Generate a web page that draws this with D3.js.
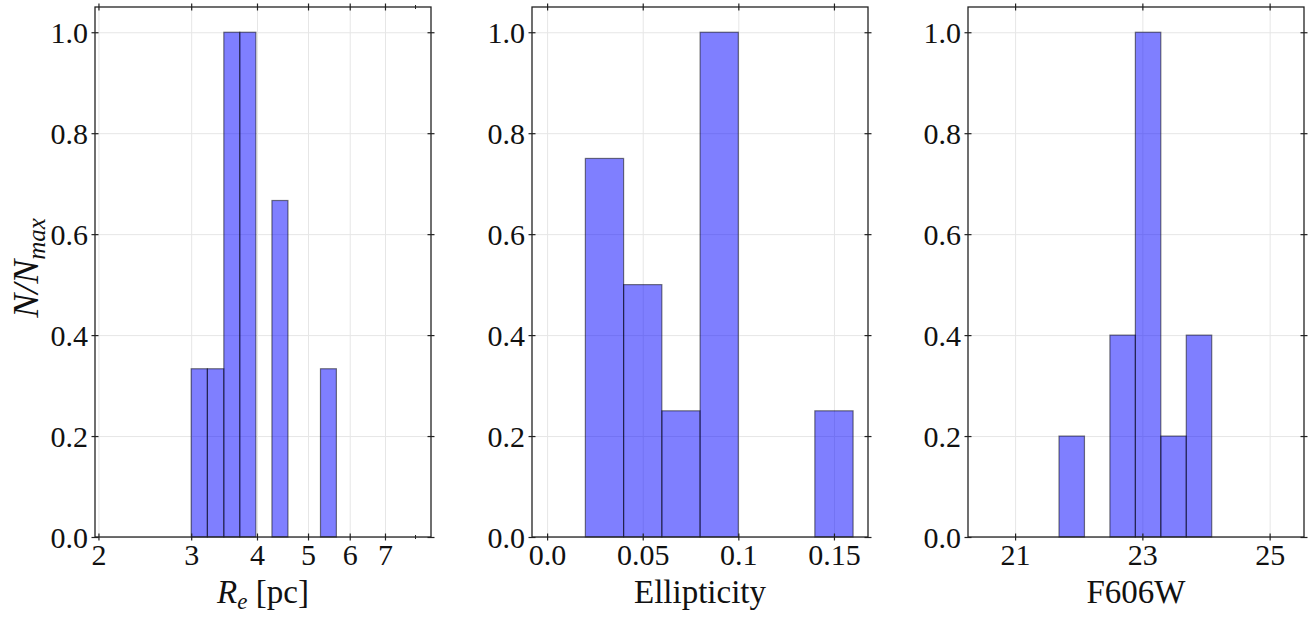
<!DOCTYPE html>
<html>
<head>
<meta charset="utf-8">
<script src="https://cdn.jsdelivr.net/npm/d3@7"></script>
</head>
<body style="margin:0;background:#fff">
<svg id="chart" width="1313" height="619"></svg>
<script>
// histogram bins (counts, later divided by the max)
var reEdges = [3.0, 3.22, 3.46, 3.71, 3.98, 4.27, 4.58, 4.92, 5.28, 5.66];
var reCounts = [1, 1, 3, 3, 0, 2, 0, 0, 1];
var ellEdges = [0.02, 0.04, 0.06, 0.08, 0.10, 0.12, 0.14, 0.16];
var ellCounts = [3, 2, 1, 4, 0, 0, 1];
var magEdges = [21.69, 22.09, 22.49, 22.89, 23.29, 23.69, 24.09];
var magCounts = [1, 0, 2, 5, 1, 2];

// ticks
var yTicks = [0, 0.2, 0.4, 0.6, 0.8, 1.0];
var reTicks = [2, 3, 4, 5, 6, 7], reMinor = [8];
var ellTicks = [0, 0.05, 0.1, 0.15], ellLabels = ["0.0", "0.05", "0.1", "0.15"];
var magTicks = [21, 23, 25];

var FONT = "'Liberation Serif'";
var plotTop = 7, h = 530, w = 336;

var panels = [
    { left: 95, x: d3.scaleLog().domain([1.97, 8.56]), edges: reEdges, counts: reCounts,
      ticks: reTicks, minor: reMinor, fmt: function(d) { return d; }, title: "re" },
    { left: 532, x: d3.scaleLinear().domain([-0.0079, 0.1678]), edges: ellEdges, counts: ellCounts,
      ticks: ellTicks, minor: [], fmt: function(d, i) { return ellLabels[i]; }, title: "Ellipticity" },
    { left: 968, x: d3.scaleLinear().domain([20.26, 25.54]), edges: magEdges, counts: magCounts,
      ticks: magTicks, minor: [], fmt: function(d) { return d; }, title: "F606W" }
];

var svg = d3.select("#chart").style("font-family", FONT);
var y = d3.scaleLinear().domain([0, 1.05]).range([h, 0]);

panels.forEach(function(p, pi) {
    var x = p.x.range([0, w]);
    var g = svg.append("g").attr("transform", "translate(" + p.left + "," + plotTop + ")");

    //grid
    var gx = g.append("g").attr("transform", "translate(0," + h + ")")
        .call(d3.axisBottom(x).tickValues(p.ticks).tickSize(-h).tickFormat(""));
    var gy = g.append("g")
        .call(d3.axisLeft(y).tickValues(yTicks).tickSize(-w).tickFormat(""));
    [gx, gy].forEach(function(a) {
        a.select(".domain").remove();
        a.selectAll("line").style("stroke", "#e6e6e6").style("stroke-width", 1);
    });

    //bars
    var maxC = d3.max(p.counts);
    var bins = p.counts.map(function(c, i) { return { x0: p.edges[i], x1: p.edges[i + 1], v: c / maxC }; })
        .filter(function(d) { return d.v > 0; });
    g.selectAll(".bar").data(bins).enter().append("rect")
        .attr("class", "bar")
        .attr("x", function(d) { return x(d.x0); })
        .attr("width", function(d) { return x(d.x1) - x(d.x0); })
        .attr("y", function(d) { return y(d.v); })
        .attr("height", function(d) { return h - y(d.v); })
        .style("fill", "blue").style("fill-opacity", 0.5)
        .style("stroke", "black").style("stroke-opacity", 0.5).style("stroke-width", 1.2);

    //ticks on all four sides, in-out
    var axes = [
        g.append("g").attr("transform", "translate(0," + h + ")").call(d3.axisBottom(x).tickValues(p.ticks).tickSize(3.5).tickFormat(p.fmt)),
        g.append("g").call(d3.axisTop(x).tickValues(p.ticks).tickSize(3.5).tickFormat("")),
        g.append("g").call(d3.axisLeft(y).tickValues(yTicks).tickSize(3.5).tickFormat(d3.format(".1f"))),
        g.append("g").attr("transform", "translate(" + w + ",0)").call(d3.axisRight(y).tickValues(yTicks).tickSize(3.5).tickFormat(""))
    ];
    axes.forEach(function(a, ai) {
        a.select(".domain").remove();
        a.attr("font-family", null).attr("font-size", null);
        if (ai < 2) a.selectAll(".tick line").attr("y1", -3.5).attr("y2", 3.5);
        else a.selectAll(".tick line").attr("x1", -3.5).attr("x2", 3.5);
        a.selectAll(".tick line").style("stroke", "#222").style("stroke-width", 1.2);
        a.selectAll("text").style("font-family", FONT).style("font-size", "30px").style("fill", "#111");
    });
    axes[0].selectAll("text").attr("y", 28).attr("dy", 0);
    axes[2].selectAll("text").attr("x", -7).attr("dy", "0.35em");
    if (p.minor.length) {
        [h, 0].forEach(function(yy) {
            g.selectAll(null).data(p.minor).enter().append("line")
                .attr("x1", function(d) { return x(d); }).attr("x2", function(d) { return x(d); })
                .attr("y1", yy - 2).attr("y2", yy + 2)
                .style("stroke", "#222").style("stroke-width", 1);
        });
    }

    //frame
    g.append("rect").attr("width", w).attr("height", h)
        .style("fill", "none").style("stroke", "#222").style("stroke-width", 1.3);

    //x label
    var t = g.append("text").attr("x", w / 2).attr("y", 596).attr("text-anchor", "middle")
        .style("font-family", FONT).style("font-size", "33px").style("fill", "#111");
    if (p.title === "re") {
        t.append("tspan").style("font-style", "italic").text("R");
        t.append("tspan").style("font-style", "italic").style("font-size", "23px").attr("dy", 6).text("e");
        t.append("tspan").attr("dy", -6).text("\u00a0[pc]");
    } else {
        t.text(p.title);
    }
});

//y label
var yl = svg.append("text").attr("transform", "translate(38,268) rotate(-90)")
    .attr("text-anchor", "middle").style("font-family", FONT)
    .style("font-size", "36px").style("font-style", "italic").style("fill", "#111");
yl.append("tspan").text("N/N");
yl.append("tspan").style("font-size", "25px").attr("dy", 7).text("max");
</script>
</body>
</html>
